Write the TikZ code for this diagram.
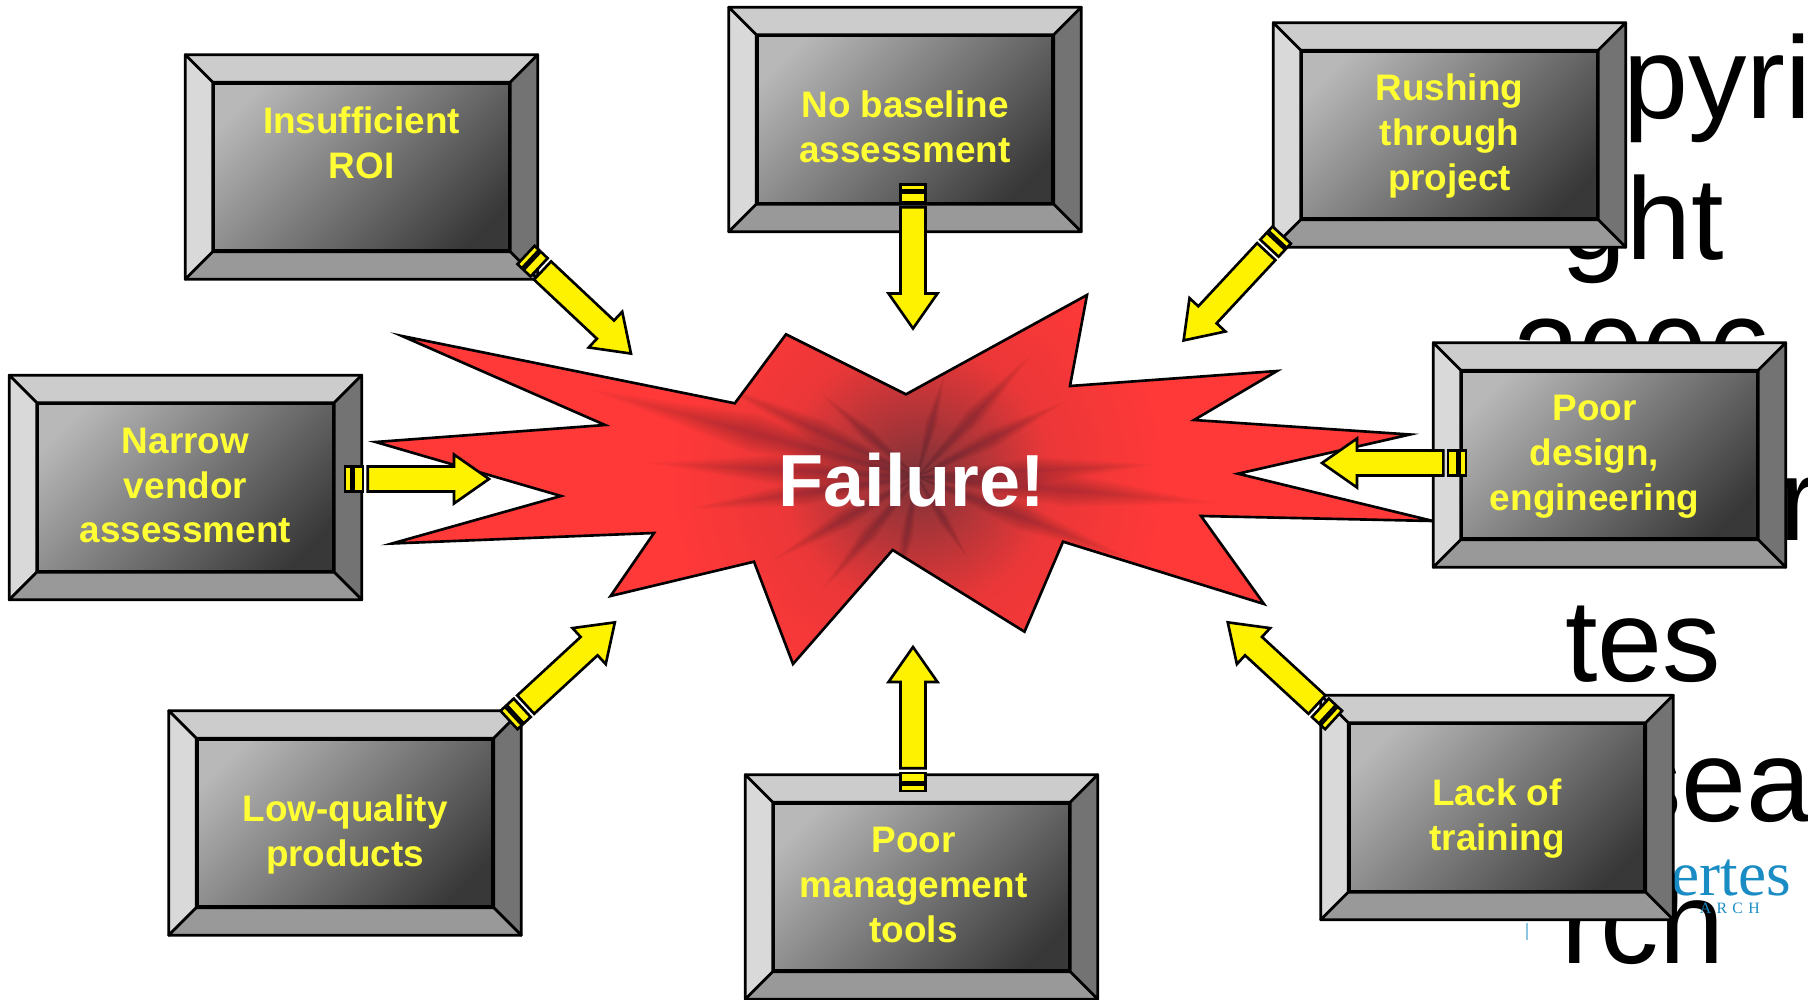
\documentclass[tikz,border=0pt]{standalone}
\usepackage{fontspec}
\setmainfont{Liberation Sans}
\newfontfamily\logofont{Liberation Serif}
\usetikzlibrary{calc}
\definecolor{burst}{HTML}{FF3838}
\definecolor{streak}{HTML}{4A2A32}
\definecolor{glow}{HTML}{7A3238}
\definecolor{logoblue}{HTML}{1A8CC4}
\definecolor{labelyellow}{HTML}{FFFF33}
\pgfdeclareverticalshading{facegrad}{100bp}{color(0bp)=(black!78); color(22bp)=(black!78);
  color(78bp)=(black!28); color(100bp)=(black!28)}
\pgfdeclareradialshading{burstglow}{\pgfpoint{0bp}{0bp}}{color(0bp)=(glow); color(2bp)=(glow!70!burst);
  color(6bp)=(burst!85!glow); color(11bp)=(burst); color(50bp)=(burst)}
\tikzset{
  bevelface/.style={minimum width=5.9cm,minimum height=3.34cm,inner sep=0pt,draw=black,line width=1.5pt,
    shading=facegrad,shading angle=45},
  bevelside/.style={draw=black,line width=1.5pt,line join=round},
  bevellabel/.style={text=labelyellow,align=center,inner sep=0pt,font=\fontsize{21}{25.6}\selectfont\bfseries},
  bigtext/.style={anchor=base,inner sep=0pt,font=\fontsize{66.5}{80}\selectfont},
  blockfill/.style={draw=black,fill=yellow,line width=1.5pt},
  pics/arrowbody/.style={code={
     \draw[blockfill] (0,-12.5) rectangle (6,12.5);
     \draw[blockfill] (8.5,-12.5) rectangle (18,12.5);
     \draw[blockfill] (22.7,-12.5) -- (109,-12.5) -- (109,-24.5) -- (144,0)
        -- (109,24.5) -- (109,12.5) -- (22.7,12.5) -- cycle;
    }},
  blockarrow/.style={to path={let \p1=($(\tikztotarget)-(\tikztostart)$),\n1={atan2(\y1,\x1)} in
     (\tikztostart) pic[rotate=\n1]{arrowbody}}},
}
\def\burstpath{(402,336) -- (734.8,403.3) -- (786,334.3) -- (906,394.3) -- (1087,295)
  -- (1070,386) -- (1277,371) -- (1194,420) -- (1410,434.5) -- (1238,473.7) -- (1433,521)
  -- (1201,516) -- (1264,604) -- (1063,541.7) -- (1024.5,631.7) -- (892.6,550) -- (793,664)
  -- (754,561.7) -- (610.6,596) -- (654,533) -- (392,543.5) -- (561,496) -- (375.6,442)
  -- (605,425) -- cycle}
\begin{document}
\begin{tikzpicture}[x=0.02cm,y=-0.02cm]
 \clip (0,0) rectangle (1808,1000);
 % text behind the boxes
 \foreach \bgtext/\by [count=\i] in {Copyri/118.5,ght/259.5,2006/400,tes/681,Resea/821.5,rch/963}
   \node[bigtext] (bg\i) at (1643,\by) {\bgtext};
 \node[bigtext,anchor=base west] (bgr) at (1779,540) {r};
 \node[anchor=base east,inner sep=0pt,text=logoblue,font=\logofont\fontsize{36}{40}\selectfont] (logo) at (1791,895) {mertes};
 \node[anchor=base east,inner sep=0pt,text=logoblue,font=\logofont\fontsize{9}{10}\selectfont] (logoarch) at (1760,913) {A\,\,R\,\,C\,\,H};
 \draw[logoblue!50,line width=1.2pt] (1527,923) -- (1527,940);
 % the burst
 \begin{scope}
  \clip \burstpath;
  \shade[shading=burstglow] (917,477) circle (560);
  \foreach \ang/\len in {-165/340,-177/270,172/230,130/150,100/120,58/100,21/230,5/300,-3/240,
     -27/170,-47/170,-75/110,-139/130,-155/220,150/170} {
   \foreach \k in {1,...,12}
     \fill[streak,opacity=0.032,shift={(917,477)}] (0,0) -- (\ang-0.55*\k:0.5*\len)
       -- (\ang:{\len*(0.55+0.45*\k/12)}) -- (\ang+0.55*\k:0.5*\len) -- cycle;
  }
 \end{scope}
 \draw[line width=1.5pt,line join=miter] \burstpath;
 \node[text=white,inner sep=0pt,font=\fontsize{42}{48}\selectfont\bfseries] (failure) at (912,480) {Failure!};
 % bevelled boxes
 \foreach \boxname/\cx/\cy/\dx/\dy/\boxtext in {
    roi/361.5/167/0/-24/{Insufficient\\ROI},
    baseline/905/119.5/0/7/{No baseline\\assessment},
    rushing/1449.5/135/0/1/{Rushing\\through\\project},
    narrow/185.5/487.5/0/-2/{Narrow\\vendor\\assessment},
    design/1609.5/455/-15/2/{Poor\\design,\\engineering},
    lowq/345/823/0/11/{Low-quality\\products},
    mgmt/921.5/887/-8/-2/{Poor\\management\\tools},
    lack/1497/807.5/0/11/{Lack of\\training}} {
  \node[bevelface] (\boxname) at (\cx,\cy) {};
  \coordinate (\boxname-nw) at ($(\boxname.north west)+(-27.5,-27.5)$);
  \coordinate (\boxname-ne) at ($(\boxname.north east)+(27.5,-27.5)$);
  \coordinate (\boxname-se) at ($(\boxname.south east)+(27.5,27.5)$);
  \coordinate (\boxname-sw) at ($(\boxname.south west)+(-27.5,27.5)$);
  \filldraw[bevelside,fill=black!20] (\boxname-nw) -- (\boxname-ne) -- (\boxname.north east) -- (\boxname.north west) -- cycle;
  \filldraw[bevelside,fill=black!15] (\boxname-nw) -- (\boxname-sw) -- (\boxname.south west) -- (\boxname.north west) -- cycle;
  \filldraw[bevelside,fill=black!55] (\boxname-ne) -- (\boxname-se) -- (\boxname.south east) -- (\boxname.north east) -- cycle;
  \filldraw[bevelside,fill=black!40] (\boxname-sw) -- (\boxname-se) -- (\boxname.south east) -- (\boxname.south west) -- cycle;
  \node[bevellabel] (\boxname-label) at (\cx+\dx,\cy+\dy) {\boxtext};
 }
 % arrows into the burst
 \foreach \boxname/\tx/\ty/\hx/\hy in {
    roi/526/255/630.7/353.3,
    baseline/913/184.5/913/327.5,
    rushing/1281.7/235/1184/340,
    narrow/345/479/489/479,
    design/1466/463/1321/463,
    lowq/509/720/614.6/622.6,
    mgmt/913/791/913/647,
    lack/1333.6/720/1228/622.6} {
  \coordinate (\boxname-tail) at (\tx,\ty);
  \coordinate (\boxname-tip) at (\hx,\hy);
  \draw[blockarrow] (\boxname-tail) to (\boxname-tip);
 }
\end{tikzpicture}
\end{document}
